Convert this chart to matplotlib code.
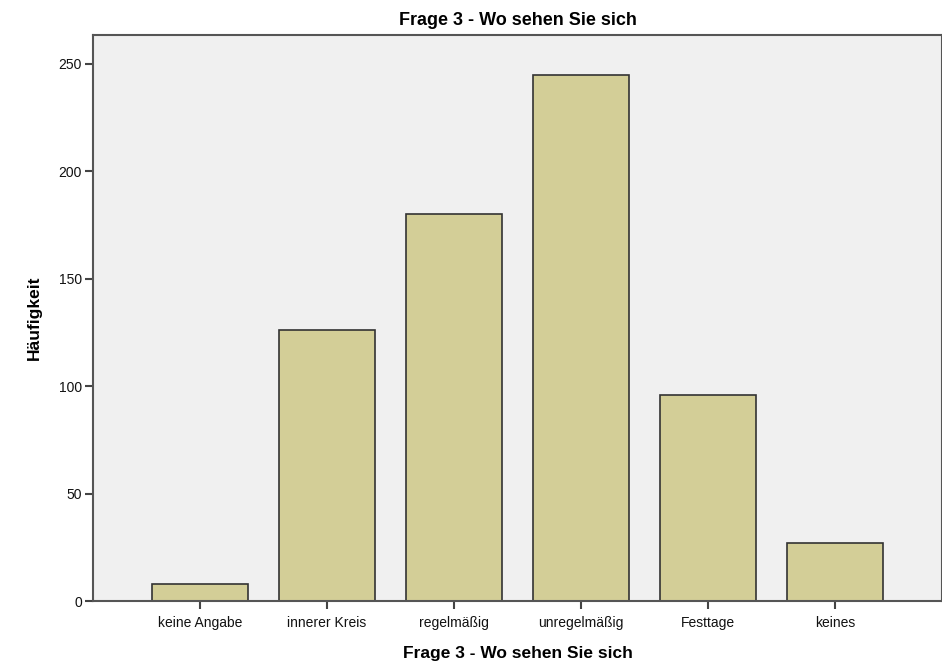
import numpy as np
import matplotlib.pyplot as plt

plt.rcParams['font.family'] = ['Liberation Sans', 'DejaVu Sans']

# Daten ---------------------------------------------------------------
kategorien = ['keine Angabe', 'innerer Kreis', 'regelmäßig', 'unregelmäßig', 'Festtage', 'keines']
haeufigkeit = [8, 126, 180, 245, 96, 27]
y_ticks = [0, 50, 100, 150, 200, 250]

# Grafik --------------------------------------------------------------
fig = plt.figure(figsize=(9.42, 6.65), dpi=100)
ax = fig.add_axes([0.0987, 0.0962, 0.9013, 0.8512])
ax.set_facecolor('#f0f0f0')

x = np.arange(len(kategorien))
ax.bar(x, haeufigkeit, width=0.755, color='#d3ce97', edgecolor='#333333', linewidth=1.2, zorder=2)

ax.set_xlim(-0.84, 5.84)
ax.set_ylim(0, 263.5)
ax.set_xticks(x)
ax.set_xticklabels(kategorien, fontsize=10)
ax.set_yticks(y_ticks)
ax.set_yticklabels([str(v) for v in y_ticks], fontsize=10)

for s in ax.spines.values():
    s.set_color('#555555')
    s.set_linewidth(1.5)
ax.tick_params(axis='both', direction='out', length=6, width=1.5, color='#444444', labelcolor='#111111')
ax.tick_params(axis='x', pad=5)
ax.tick_params(axis='y', pad=2)

ax.set_title('Frage 3 - Wo sehen Sie sich', fontsize=13, fontweight='bold', pad=7)
ax.set_xlabel('Frage 3 - Wo sehen Sie sich', fontsize=12.5, fontweight='bold', labelpad=11)
ax.set_ylabel('Häufigkeit', fontsize=12.5, fontweight='bold', labelpad=12)

fig.savefig('out.png', dpi=100)
